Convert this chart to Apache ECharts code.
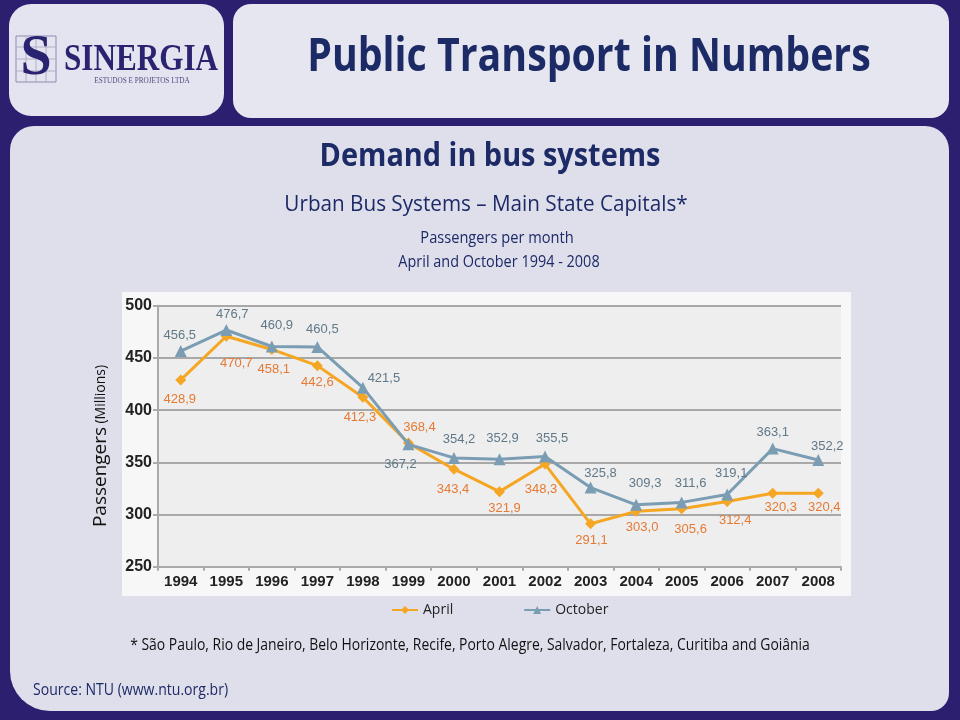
<!DOCTYPE html>
<html>
<head>
<meta charset="utf-8">
<script src="https://cdn.jsdelivr.net/npm/echarts@6/dist/echarts.min.js"></script>
<style>html,body{margin:0;padding:0;background:#2c1f6f;}#c{width:960px;height:720px;}</style>
</head>
<body>
<div id="c"></div>
<script>
// ---- data ----
const categories = ['1994','1995','1996','1997','1998','1999','2000','2001','2002','2003','2004','2005','2006','2007','2008'];
const aprilValues = [428.9, 470.7, 458.1, 442.6, 412.3, 368.4, 343.4, 321.9, 348.3, 291.1, 303.0, 305.6, 312.4, 320.3, 320.4];
const octoberValues = [456.5, 476.7, 460.9, 460.5, 421.5, 367.2, 354.2, 352.9, 355.5, 325.8, 309.3, 311.6, 319.1, 363.1, 352.2];
const seriesNames = ['April', 'October'];
const yMin = 250, yMax = 500, yStep = 50;

// label placement (offset from point, px)
const aprilLabelOffset = [[-1,19],[10,27],[2,20],[0,17],[-3,20],[11,-16],[-1,20],[5,17],[-4,25],[1,17],[6,16],[9,21],[8,19],[8,14],[6,14]];
const octoberLabelOffset = [[-1,-16],[6,-16],[5,-21],[5,-18],[21,-9],[-8,20],[5,-18],[3,-21],[7,-18],[10,-14],[9,-21],[9,-19],[4,-21],[0,-16],[9,-14]];

const fmt = v => v.toFixed(1).replace('.', ',');
const cal = '"Open Sans", "Noto Sans", sans-serif';
const narrow = '"Liberation Sans Narrow", "Arial Narrow", "Liberation Sans", sans-serif';

function txt(text, x, y, size, weight, color, sx, align) {
  return {
    type: 'text', x: x, y: y, scaleX: sx || 1, z: 10,
    style: { text: text, x: 0, y: 0, font: (weight || 'normal') + ' ' + size + 'px ' + cal,
      fill: color, align: align || 'center', verticalAlign: 'middle' }
  };
}

const chart = echarts.init(document.getElementById('c'), null, {renderer: 'canvas'});

const logoGrid = [];
[26, 36, 46].forEach(x => logoGrid.push({ type: 'line', z: 2, shape: {x1: x, y1: 36, x2: x, y2: 82}, style: {stroke: '#b0b0c8', lineWidth: 1} }));
[47, 59, 71].forEach(y => logoGrid.push({ type: 'line', z: 2, shape: {x1: 16, y1: y, x2: 56, y2: y}, style: {stroke: '#b0b0c8', lineWidth: 1} }));

const graphics = [
  // panels
  { type: 'rect', z: -10, shape: {x: 9, y: 4, width: 215, height: 112, r: 22}, style: {fill: '#e4e4f0'} },
  { type: 'rect', z: -10, shape: {x: 233, y: 4, width: 716, height: 114, r: 18}, style: {fill: '#e6e6f1'} },
  { type: 'rect', z: -10, shape: {x: 10, y: 126, width: 939, height: 585, r: [24, 24, 18, 40]}, style: {fill: '#dfdfec'} },
  // chart frame
  { type: 'rect', z: -5, shape: {x: 122, y: 292, width: 729, height: 304}, style: {fill: '#f7f7f7'} },
  // logo
  { type: 'rect', z: 2, shape: {x: 16, y: 36, width: 40, height: 46}, style: {fill: 'none', stroke: '#8b8bb0', lineWidth: 1} },
  ...logoGrid,
  { type: 'text', z: 3, x: 36, y: 60, style: {text: 'S', x: 0, y: 0, font: 'bold 56px "Liberation Serif", "DejaVu Serif", serif', fill: '#2a2370', align: 'center', verticalAlign: 'middle'} },
  { type: 'text', z: 3, x: 141, y: 60, scaleX: 0.82, style: {text: 'SINERGIA', x: 0, y: 0, font: 'bold 38px "Liberation Serif", "DejaVu Serif", serif', fill: '#2a2370', align: 'center', verticalAlign: 'middle'} },
  { type: 'text', z: 3, x: 142, y: 81, scaleX: 0.9, style: {text: 'ESTUDOS E PROJETOS LTDA', x: 0, y: 0, font: '8px "Liberation Serif", serif', fill: '#4a4a80', align: 'center', verticalAlign: 'middle'} },
  // headings
  txt('Public Transport in Numbers', 589, 58, 46, 'bold', '#1c2a66', 0.854),
  txt('Demand in bus systems', 490, 157, 33, 'bold', '#1c2a66', 0.875),
  txt('Urban Bus Systems \u2013 Main State Capitals*', 486, 205, 22, 'normal', '#1c2a66', 0.94),
  txt('Passengers per month', 497, 238, 17, 'normal', '#1c2a66', 0.86),
  txt('April and October 1994 - 2008', 499, 262, 17, 'normal', '#1c2a66', 0.85),
  txt('* S\u00e3o Paulo, Rio de Janeiro, Belo Horizonte, Recife, Porto Alegre, Salvador, Fortaleza, Curitiba and Goi\u00e2nia', 470, 645, 16, 'normal', '#111', 0.87),
  txt('Source: NTU (www.ntu.org.br)', 33, 690, 16, 'normal', '#1c2a66', 0.878, 'left'),
  { type: 'text', z: 10, x: 101, y: 446, rotation: Math.PI / 2,
    style: { text: '{a|Passengers} {b|(Millions)}', x: 0, y: 0, align: 'center', verticalAlign: 'middle',
      rich: { a: {font: '19px ' + cal, fill: '#111'}, b: {font: '14px ' + cal, fill: '#111'} } } }
];

const mkData = (vals, offs) => vals.map((v, i) => ({ value: v, label: { offset: offs[i] } }));

chart.setOption({
  animation: false,
  backgroundColor: '#2c1f6f',
  graphic: graphics,
  grid: { left: 158, top: 305.7, right: 119, bottom: 153.3, show: true, backgroundColor: '#eeeeee', borderWidth: 0 },
  legend: {
    data: seriesNames, left: 386, top: 598, itemGap: 70, itemWidth: 26, itemHeight: 10,
    textStyle: { fontFamily: cal, fontSize: 14, color: '#222' }
  },
  xAxis: {
    type: 'category', data: categories, boundaryGap: true,
    axisLine: { lineStyle: { color: '#aaaaaa', width: 2 } },
    axisTick: { show: true, length: 4, lineStyle: { color: '#aaaaaa', width: 2 } },
    axisLabel: { fontFamily: '"Liberation Sans", Arial, sans-serif', fontSize: 15, fontWeight: 'bold', color: '#222', margin: 8 }
  },
  yAxis: {
    type: 'value', min: yMin, max: yMax, interval: yStep,
    axisLine: { show: true, lineStyle: { color: '#aaaaaa', width: 2 } },
    axisTick: { show: true, length: 5, lineStyle: { color: '#aaaaaa', width: 2 } },
    splitLine: { lineStyle: { color: '#a8a8a8', width: 2 } },
    axisLabel: { fontFamily: narrow, fontSize: 16, fontWeight: 'bold', color: '#222', margin: 6 }
  },
  series: [
    {
      name: seriesNames[0], type: 'line', data: mkData(aprilValues, aprilLabelOffset), z: 3,
      symbol: 'diamond', symbolSize: 11,
      lineStyle: { color: '#f5a623', width: 3 }, itemStyle: { color: '#f5a623' },
      label: { show: true, position: 'inside', formatter: p => fmt(p.value), fontFamily: narrow, fontSize: 13, color: '#e57a34' }
    },
    {
      name: seriesNames[1], type: 'line', data: mkData(octoberValues, octoberLabelOffset), z: 4,
      symbol: 'triangle', symbolSize: 12,
      lineStyle: { color: '#7a9db3', width: 3 }, itemStyle: { color: '#7a9db3' },
      label: { show: true, position: 'inside', formatter: p => fmt(p.value), fontFamily: narrow, fontSize: 13, color: '#607888' }
    }
  ]
});
</script>
</body>
</html>
